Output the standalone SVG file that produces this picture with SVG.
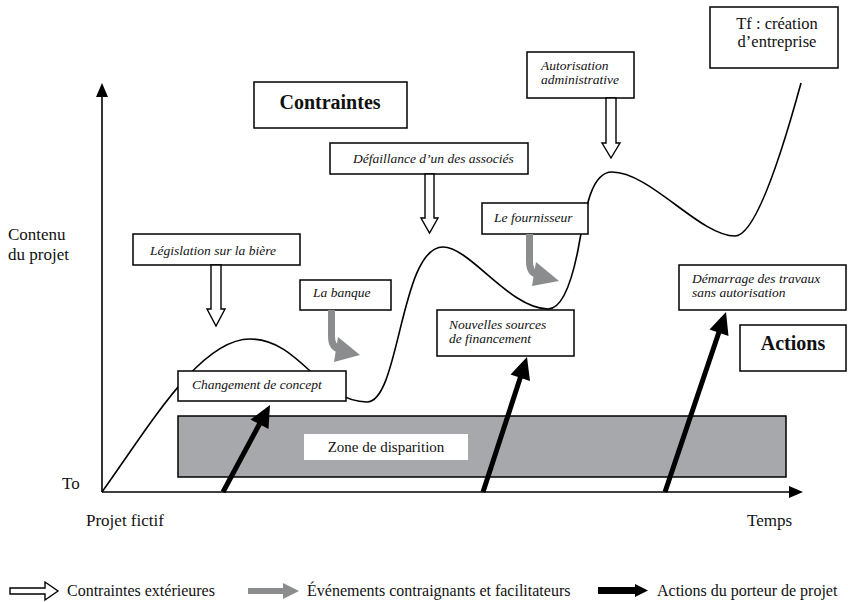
<svg xmlns="http://www.w3.org/2000/svg" width="848" height="602" viewBox="0 0 848 602" font-family="'Liberation Serif', 'Times New Roman', 'DejaVu Serif', serif">
<style>
text{font-family:'Liberation Serif','Times New Roman','DejaVu Serif',serif;fill:#111}
.box{fill:#fff;stroke:#000;stroke-width:1.5}
.it{font-style:italic;font-size:13.5px}
.rg{font-size:17px}
.lg{font-size:16px}
.tf{font-size:16.5px}
.zn{font-size:15px}
.bd{font-weight:bold;font-size:20px}
.hol{fill:#fff;stroke:#000;stroke-width:1.4}
.gs{fill:none;stroke:#8a8c8e;stroke-width:7}
.gh{fill:#8a8c8e}
.bs{stroke:#000;stroke-width:5;fill:none}
.bh{fill:#000}
</style>
<rect width="848" height="602" fill="#fff"/>
<g id="axes">
<line x1="102" y1="492" x2="102" y2="96" stroke="#000" stroke-width="1.6"/>
<polygon points="102,83 96,97 108,97" fill="#000"/>
<line x1="102" y1="492" x2="791" y2="492" stroke="#000" stroke-width="1.6"/>
<polygon points="803,492 789,486 789,498" fill="#000"/>
<text class="rg" x="8" y="240">Contenu</text>
<text class="rg" x="8" y="260">du projet</text>
<text class="rg" x="62" y="489">To</text>
<text class="rg" x="86" y="526">Projet fictif</text>
<text class="rg" x="747" y="526">Temps</text>
</g>
<g id="zone">
<rect x="178" y="416" width="608" height="61" fill="#a7a8ab" stroke="#000" stroke-width="1.5"/>
<rect x="304" y="434" width="164" height="26" fill="#fff"/>
<text class="zn" x="386" y="452" text-anchor="middle">Zone de disparition</text>
</g>
<g id="curve">
<path d="M102,492 C150,425 200,339 250,339 C300,339 320,402 367,402 C400,402 400,247 443,247 C470,247 510,309 548,309 C560,309 570,290 578,250 C586,205 592,172 612,172 C650,172 700,236 735,236 C755,236 780,160 801,83" fill="none" stroke="#000" stroke-width="1.6"/>
</g>
<g id="n-contraintes">
<rect class="box" x="254" y="82" width="153" height="46"/>
<text class="bd" x="330" y="109" text-anchor="middle">Contraintes</text>
</g>
<g id="n-actions">
<rect class="box" x="740" y="325" width="106" height="46"/>
<text class="bd" x="793" y="350" text-anchor="middle">Actions</text>
</g>
<g id="n-tf">
<rect class="box" x="710" y="7" width="128" height="61"/>
<text class="tf" x="777" y="29" text-anchor="middle">Tf : création</text>
<text class="tf" x="777" y="47" text-anchor="middle">d’entreprise</text>
</g>
<g id="n-autorisation">
<rect class="box" x="527" y="52" width="107" height="46"/>
<text class="it" x="541" y="70">Autorisation</text>
<text class="it" x="541" y="84">administrative</text>
</g>
<g id="n-defaillance">
<rect class="box" x="330" y="143" width="198" height="31"/>
<text class="it" x="353" y="163">Défaillance d’un des associés</text>
</g>
<g id="n-legislation">
<rect class="box" x="133" y="234" width="167" height="31"/>
<text class="it" x="150" y="255">Législation sur la bière</text>
</g>
<g id="n-banque">
<rect class="box" x="300" y="280" width="91" height="30"/>
<text class="it" x="313" y="297">La banque</text>
</g>
<g id="n-fournisseur">
<rect class="box" x="482" y="203" width="106" height="31"/>
<text class="it" x="494" y="222">Le fournisseur</text>
</g>
<g id="n-nouvelles">
<rect class="box" x="437" y="310" width="137" height="46"/>
<text class="it" x="449" y="329">Nouvelles sources</text>
<text class="it" x="449" y="343">de financement</text>
</g>
<g id="n-changement">
<rect class="box" x="178" y="371" width="168" height="30"/>
<text class="it" x="192" y="389">Changement de concept</text>
</g>
<g id="n-demarrage">
<rect class="box" x="679" y="265" width="167" height="45"/>
<text class="it" x="692" y="283">Démarrage des travaux</text>
<text class="it" x="692" y="297">sans autorisation</text>
</g>
<g id="connectors">
<polygon class="hol" points="211,265 211,309 207,309 216,326 225,309 221,309 221,265"/>
<polygon class="hol" points="425,174 425,218 421,218 429.5,233 438,218 434,218 434,174"/>
<polygon class="hol" points="606,98 606,143 602,143 611,158 620,143 616,143 616,98"/>
<path class="gs" d="M331.5,310 L331.5,336 Q331.5,348 340,349"/>
<polygon class="gh" points="338,337 360,355 334,362"/>
<path class="gs" d="M529.5,234 L529.5,261 Q529.5,273 537,274"/>
<polygon class="gh" points="536,262 559,281 532,286"/>
<line class="bs" x1="223" y1="492" x2="260" y2="423"/>
<polygon class="bh" points="270,405 268.5,429 250.5,419.5"/>
<line class="bs" x1="483" y1="492" x2="520.5" y2="377"/>
<polygon class="bh" points="527,357 530,381 510.5,374.5"/>
<line class="bs" x1="665" y1="492" x2="719" y2="332"/>
<polygon class="bh" points="726,312 728.5,336 709.5,329.5"/>
</g>
<g id="legend">
<polygon class="hol" points="10,588 45,588 45,582 58,591 45,600 45,594 10,594"/>
<text class="lg" x="67" y="596">Contraintes extérieures</text>
<rect x="248" y="588" width="36" height="6" fill="#8a8c8e"/>
<polygon class="gh" points="283,583 299,591 283,599"/>
<text class="lg" x="307" y="596">Événements contraignants et facilitateurs</text>
<rect x="598" y="587" width="38" height="7" fill="#000"/>
<polygon class="bh" points="635,584 648,590.5 635,597"/>
<text class="lg" x="657" y="596">Actions du porteur de projet</text>
</g>
</svg>
